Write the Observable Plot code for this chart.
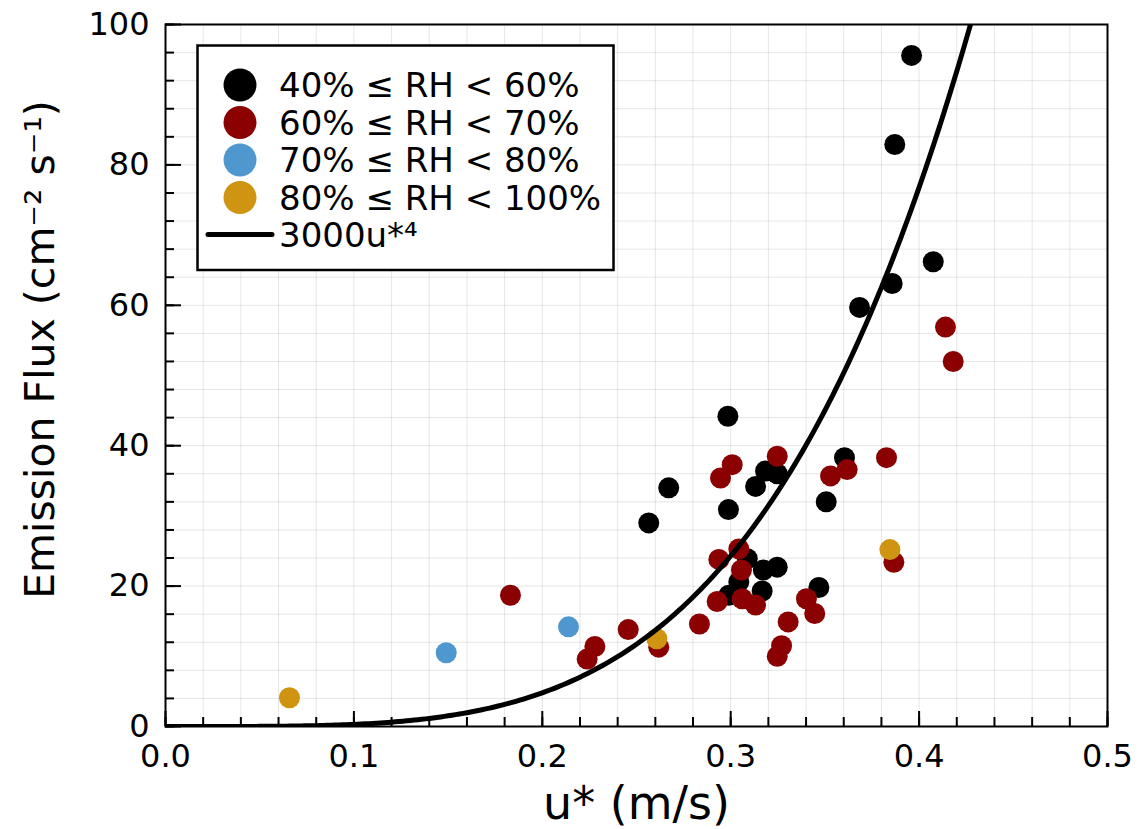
<!DOCTYPE html>
<html>
<head>
<meta charset="utf-8">
<script src="https://cdn.jsdelivr.net/npm/d3@7"></script>
<script src="https://cdn.jsdelivr.net/npm/@observablehq/plot@0.6"></script>
<style>
  html, body { margin: 0; padding: 0; background: white; }
  #chart { width: 1145px; height: 829px; }
</style>
</head>
<body>
<div id="chart"></div>
<script>
// ---- Data ----
const groups = ["40% ≤ RH < 60%", "60% ≤ RH < 70%", "70% ≤ RH < 80%", "80% ≤ RH < 100%"];
const groupColors = ["#000000", "#8b0000", "#4f97cf", "#cf9411"];

const rh40X = [0.396, 0.3871, 0.4075, 0.3857, 0.3684, 0.2985, 0.2671, 0.2565, 0.2988, 0.3604, 0.3185, 0.3247, 0.3132, 0.3507, 0.3468, 0.3088, 0.3173, 0.3247, 0.3043, 0.3167, 0.299];
const rh40Y = [95.6, 82.9, 66.2, 63.1, 59.7, 44.2, 34.0, 29.0, 30.9, 38.3, 36.4, 36.0, 34.2, 32.0, 19.8, 23.9, 22.3, 22.7, 20.6, 19.3, 18.7];

const rh60X = [0.3247, 0.3008, 0.2946, 0.353, 0.3618, 0.3827, 0.3043, 0.2937, 0.3057, 0.2928, 0.3061, 0.3132, 0.3402, 0.3446, 0.3305, 0.2834, 0.2456, 0.327, 0.3247, 0.2618, 0.2279, 0.2238, 0.3866, 0.1831, 0.414, 0.4181];
const rh60Y = [38.5, 37.3, 35.4, 35.7, 36.6, 38.3, 25.3, 23.8, 22.3, 17.8, 18.2, 17.3, 18.2, 16.1, 14.9, 14.6, 13.8, 11.5, 10.0, 11.3, 11.4, 9.6, 23.4, 18.7, 56.9, 52.0];

const rh70X = [0.149, 0.2139];
const rh70Y = [10.5, 14.2];

const rh80X = [0.0658, 0.2608, 0.3845];
const rh80Y = [4.1, 12.5, 25.2];

const fitLabel = "3000u*⁴";
const fitCoef = 3000;

const xMajor = [0, 0.1, 0.2, 0.3, 0.4, 0.5];
const yMajor = [0, 20, 40, 60, 80, 100];
const xMinor = d3.range(0, 0.5001, 0.02);
const yMinor = d3.range(0, 100.001, 4);

// ---- Build table ----
const seriesX = [rh40X, rh60X, rh70X, rh80X];
const seriesY = [rh40Y, rh60Y, rh70Y, rh80Y];
const points = [];
groups.forEach((g, i) => seriesX[i].forEach((x, j) => points.push({u: x, flux: seriesY[i][j], group: g})));

// fitted curve 3000 u^4 (the legend's formula)
const curve = d3.range(0, 0.4301, 0.002).map(u => ({u, flux: fitCoef * Math.pow(u, 4)}));

// ---- Layout ----
const W = 1145, H = 829;
const mL = 165, mR = 38, mT = 24, mB = 103;
const plotW = W - mL - mR, plotH = H - mT - mB;
const font = "DejaVu Sans";

const chart = Plot.plot({
  width: W, height: H,
  marginLeft: mL, marginRight: mR, marginTop: mT, marginBottom: mB,
  style: {fontFamily: font, background: "white", color: "black"},
  x: {domain: [0, 0.5]},
  y: {domain: [0, 100]},
  color: {domain: groups, range: groupColors},
  marks: [
    Plot.ruleX(xMinor, {stroke: "#000", strokeOpacity: 0.1, strokeWidth: 1}),
    Plot.ruleY(yMinor, {stroke: "#000", strokeOpacity: 0.1, strokeWidth: 1}),
    Plot.dot(points, {x: "u", y: "flux", fill: "group", r: 10.5, stroke: null}),
    Plot.line(curve, {x: "u", y: "flux", stroke: "black", strokeWidth: 5, clip: true}),
    Plot.frame({stroke: "black", strokeWidth: 2}),
    // inward ticks
    Plot.ruleX(xMinor, {stroke: "black", strokeWidth: 2, insetTop: plotH - 9}),
    Plot.ruleX(xMajor, {stroke: "black", strokeWidth: 2, insetTop: plotH - 15}),
    Plot.ruleY(yMinor, {stroke: "black", strokeWidth: 2, insetRight: plotW - 9}),
    Plot.ruleY(yMajor, {stroke: "black", strokeWidth: 2, insetRight: plotW - 16}),
    Plot.axisX({ticks: xMajor, tickSize: 0, tickPadding: 18, fontSize: 32, tickFormat: d3.format(".1f"), label: null}),
    Plot.axisY({ticks: yMajor, tickSize: 0, tickPadding: 16, fontSize: 32, label: null}),
    Plot.text(["u* (m/s)"], {frameAnchor: "bottom", dy: 78, fontSize: 46, textAnchor: "middle", lineAnchor: "middle"}),
    Plot.text(["Emission Flux (cm⁻² s⁻¹)"], {frameAnchor: "left", dx: -125, dy: -26, rotate: -90, fontSize: 41, textAnchor: "middle", lineAnchor: "middle"})
  ]
});

document.getElementById("chart").appendChild(chart);

// ---- Legend (inside plot, top-left) ----
const svg = d3.select(chart);
const lg = svg.append("g").attr("font-family", font).attr("font-size", 34).attr("text-anchor", "start");
lg.append("rect").attr("x", 197.5).attr("y", 45.5).attr("width", 416).attr("height", 224.5)
  .attr("fill", "white").attr("stroke", "black").attr("stroke-width", 2.5);
const rowY = [85, 122.5, 160, 197.5, 234.5];
groups.forEach((g, i) => {
  lg.append("circle").attr("cx", 240).attr("cy", rowY[i]).attr("r", 16.5).attr("fill", groupColors[i]);
  lg.append("text").attr("x", 279).attr("y", rowY[i] + 12).attr("text-anchor", "start").text(g);
});
lg.append("line").attr("x1", 208).attr("x2", 272).attr("y1", rowY[4]).attr("y2", rowY[4])
  .attr("stroke", "black").attr("stroke-width", 5).attr("stroke-linecap", "round");
lg.append("text").attr("x", 279).attr("y", rowY[4] + 12).attr("text-anchor", "start").text(fitLabel);
</script>
</body>
</html>
